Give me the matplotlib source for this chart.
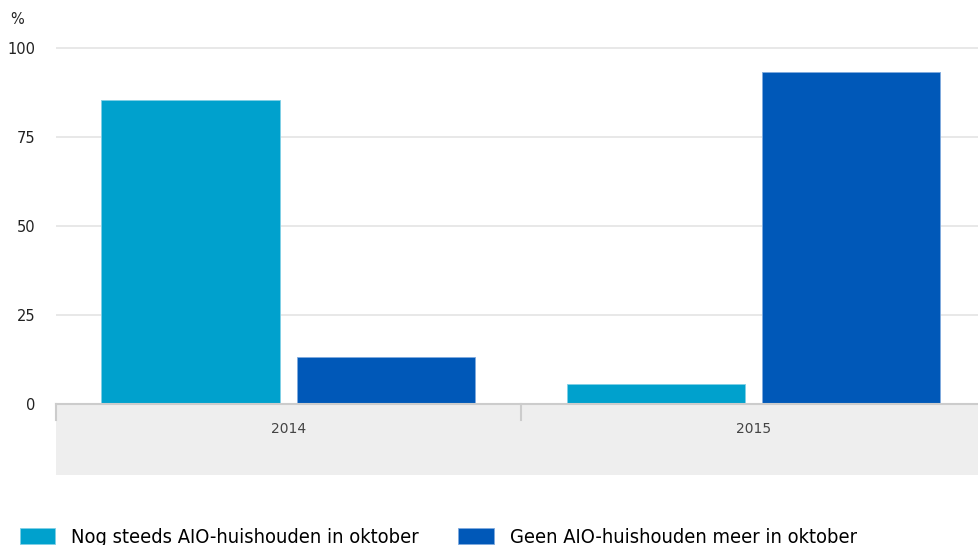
import matplotlib.pyplot as plt
import numpy as np
from matplotlib.patches import Rectangle

# values (%)
years = ["2014", "2015"]
nog_steeds = [85.4, 5.5]
geen_meer = [13.3, 93.2]
series_labels = ["Nog steeds AIO-huishouden in oktober", "Geen AIO-huishouden meer in oktober"]
yticks = [0, 25, 50, 75, 100]

light = "#00a1cd"
dark = "#0058b8"

W, H = 979, 545
fig = plt.figure(figsize=(W / 100, H / 100), dpi=100)
# axes placed in pixel terms: left 56, right 979, zero line at y=404, 100 at y=48
top_px = 48 - 3.56
ax = fig.add_axes([56 / W, 1 - 404 / H, (W - 56) / W, (404 - top_px) / H])

x = np.arange(len(years))
w = 0.383
ax.bar(x - 0.211, nog_steeds, w, color=light, edgecolor="#7fd0e6", linewidth=0.6,
       label=series_labels[0], zorder=3)
ax.bar(x + 0.209, geen_meer, w, color=dark, edgecolor="#7faade", linewidth=0.6,
       label=series_labels[1], zorder=3)

ax.set_xlim(-0.5, 1.484)
ax.set_ylim(0, 101)
ax.set_yticks(yticks)
ax.set_yticklabels([str(t) for t in yticks])
ax.yaxis.grid(True, color="#e4e4e4", linewidth=1.2, zorder=0)
ax.set_xticks(x)
ax.set_xticklabels(years)
ax.tick_params(axis="y", length=0, pad=15, labelsize=10.5, labelcolor="#222222")
ax.tick_params(axis="x", length=0, pad=13, labelsize=10, labelcolor="#444444")
for s in ["top", "right", "left"]:
    ax.spines[s].set_visible(False)
ax.spines["bottom"].set_color("#cccccc")
ax.spines["bottom"].set_linewidth(1.5)
ax.spines["bottom"].set_zorder(4)

# grey band under the category axis
ax_h = 404 - top_px
band = Rectangle((0, -71 / ax_h), 1, 71 / ax_h, transform=ax.transAxes,
                 facecolor="#eeeeee", edgecolor="none", clip_on=False, zorder=0)
ax.add_patch(band)
trans = ax.get_xaxis_transform()
for xs in [-0.5, 0.5]:
    ax.plot([xs, xs], [0, -16 / ax_h], transform=trans, color="#cccccc",
            linewidth=1.5, clip_on=False, zorder=1)

fig.text(10 / W, 1 - 19 / H, "%", fontsize=10.5, va="center", ha="left", color="#222222")

fig.legend(loc="lower left", bbox_to_anchor=(0.006, -0.029), ncol=2, frameon=False,
           handlelength=1.78, handleheight=0.86, handletextpad=0.8,
           columnspacing=1.95, borderaxespad=0.3,
           prop={"family": "DejaVu Sans", "stretch": "condensed", "size": 14.4})

fig.savefig("out.png", dpi=100)
